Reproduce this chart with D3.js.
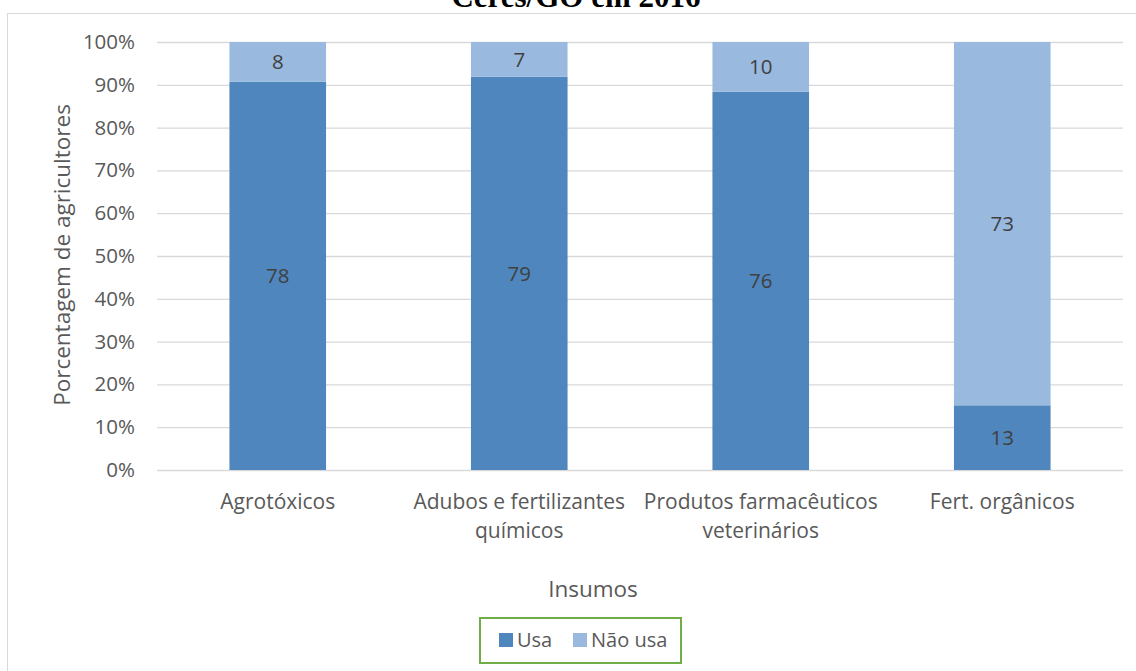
<!DOCTYPE html>
<html>
<head>
<meta charset="utf-8">
<script src="https://cdn.jsdelivr.net/npm/d3@7"></script>
<style>
  body { margin: 0; background: white; }
  text { font-family: "Open Sans", sans-serif; }
</style>
</head>
<body>
<script>
// data
const categories = [["Agrotóxicos"], ["Adubos e fertilizantes", "químicos"], ["Produtos farmacêuticos", "veterinários"], ["Fert. orgânicos"]]
const usa = [78, 79, 76, 13]
const naoUsa = [8, 7, 10, 73]
const seriesNames = ["Usa", "Não usa"]
const yTicks = [0, 0.1, 0.2, 0.3, 0.4, 0.5, 0.6, 0.7, 0.8, 0.9, 1]

const colors = ["#4f86bd", "#99b9df"]
const width = 1136, height = 671

let svg = d3.select("body").append("svg")
    .attr("width", width)
    .attr("height", height)

// chart border
svg.append("rect")
    .attr("x", 7.5).attr("y", 13.5)
    .attr("width", 1140).attr("height", 670)
    .attr("fill", "white")
    .attr("stroke", "#d9d9d9")

// title, cut off at the top like in the source
svg.append("text")
    .attr("x", 576).attr("y", 7)
    .attr("text-anchor", "middle")
    .style("font-family", "'Liberation Serif', 'Times New Roman', serif")
    .style("font-weight", "bold")
    .style("font-size", "31px")
    .text("Ceres/GO em 2016")

let margin = {left: 157, right: 13, top: 42, bottom: 201}
let plotW = width - margin.left - margin.right
let plotH = height - margin.top - margin.bottom

let g = svg.append("g").attr("transform", "translate(" + margin.left + "," + margin.top + ")")

let xScale = d3.scaleBand().domain(d3.range(categories.length)).range([0, plotW]).paddingInner(0.6).paddingOuter(0.3)
let yScale = d3.scaleLinear().domain([0, 1]).range([plotH, 0])

// gridlines + y labels
g.append("g")
    .call(d3.axisLeft(yScale).tickValues(yTicks).tickSize(-plotW).tickFormat(d3.format(".0%")).tickPadding(22))
    .call(a => a.select(".domain").remove())
    .call(a => a.selectAll(".tick line").attr("stroke", "#d9d9d9").attr("stroke-width", 1.3))
    .call(a => a.selectAll(".tick text").attr("fill", "#595959").style("font-size", "20.5px").style("font-family", "'Open Sans', sans-serif"))

// stacked bars
let rows = usa.map((u, i) => ({i: i, usa: u, nao: naoUsa[i], total: u + naoUsa[i]}))
let stack = d3.stack().keys(["usa", "nao"])(rows)

let layers = g.selectAll(".layer")
    .data(stack)
    .enter()
    .append("g")
    .attr("fill", (d, k) => colors[k])

layers.selectAll("rect")
    .data(d => d)
    .enter()
    .append("rect")
    .attr("x", d => xScale(d.data.i))
    .attr("width", xScale.bandwidth())
    .attr("y", d => yScale(d[1] / d.data.total))
    .attr("height", d => yScale(d[0] / d.data.total) - yScale(d[1] / d.data.total))

layers.selectAll("text")
    .data(d => d)
    .enter()
    .append("text")
    .attr("x", d => xScale(d.data.i) + xScale.bandwidth() / 2)
    .attr("y", d => (yScale(d[0] / d.data.total) + yScale(d[1] / d.data.total)) / 2)
    .attr("dy", "0.35em")
    .attr("text-anchor", "middle")
    .attr("fill", "#404040")
    .style("font-size", "20.5px")
    .text(d => d[1] - d[0])

// x category labels
let xl = g.selectAll(".xlabel")
    .data(categories)
    .enter()
    .append("text")
    .attr("text-anchor", "middle")
    .attr("fill", "#595959")
    .style("font-size", "21px")
    .attr("transform", (d, i) => "translate(" + (xScale(i) + xScale.bandwidth() / 2) + "," + (plotH + 39) + ")")
xl.selectAll("tspan")
    .data(d => d)
    .enter()
    .append("tspan")
    .attr("x", 0)
    .attr("y", (d, j) => j * 29)
    .text(d => d)

// axis titles
svg.append("text")
    .attr("x", 593).attr("y", 597)
    .attr("text-anchor", "middle")
    .attr("fill", "#595959")
    .style("font-size", "22.5px")
    .text("Insumos")

svg.append("text")
    .attr("transform", "translate(70,255) rotate(-90)")
    .attr("text-anchor", "middle")
    .attr("fill", "#595959")
    .style("font-size", "22.5px")
    .text("Porcentagem de agricultores")

// legend
let legend = svg.append("g").attr("transform", "translate(480,618)")
legend.append("rect")
    .attr("x", 0).attr("y", 0)
    .attr("width", 201).attr("height", 45)
    .attr("fill", "white")
    .attr("stroke", "#70ad47")
    .attr("stroke-width", 2)
let legendX = [19, 93]
seriesNames.forEach((s, k) => {
    legend.append("rect")
        .attr("x", legendX[k]).attr("y", 15)
        .attr("width", 14).attr("height", 14)
        .attr("fill", colors[k])
    legend.append("text")
        .attr("x", legendX[k] + 18).attr("y", 22)
        .attr("dy", "0.35em")
        .attr("fill", "#595959")
        .style("font-size", "20px")
        .text(s)
})
</script>
</body>
</html>
